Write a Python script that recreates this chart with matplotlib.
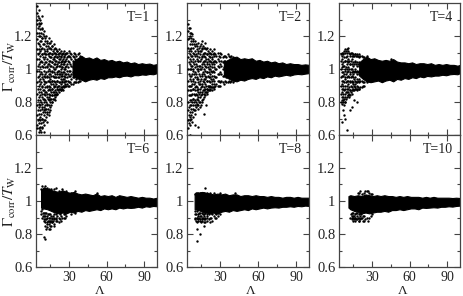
import matplotlib
matplotlib.use("Agg")
import matplotlib.pyplot as plt

plt.rcParams['font.family'] = ['Liberation Serif', 'DejaVu Serif']
plt.rcParams['mathtext.fontset'] = 'stix'

titles = ["T=1", "T=2", "T=4", "T=6", "T=8", "T=10"]
x_ticks = [30, 60, 90]
x_minor = [15, 45, 75]
y_ticks = [0.6, 0.8, 1.0, 1.2]
y_labels = ["0.6", "0.8", "1", "1.2"]
y_minor = [0.7, 0.9, 1.1, 1.3]

# Scattered points read column by column (Lambda, then ratios at that Lambda)
T1_lam = [5, 6, 7, 8, 9, 10, 11, 12, 13, 14, 15, 16, 17, 18, 19, 20, 21, 22, 23, 24, 25, 26, 27, 28, 30, 32, 34, 36, 38]
T1_val = [
    [1.38, 1.34, 1.30, 1.27, 1.22, 1.18, 1.12, 1.06, 0.99, 0.92, 0.85, 0.78, 0.72, 0.66, 0.64],
    [1.36, 1.31, 1.26, 1.20, 1.15, 1.10, 1.03, 0.96, 0.90, 0.83, 0.77, 0.70, 0.64, 0.62],
    [1.30, 1.24, 1.20, 1.14, 1.08, 1.01, 0.94, 0.88, 0.81, 0.75, 0.69, 0.63],
    [1.28, 1.22, 1.17, 1.12, 1.05, 0.98, 0.92, 0.86, 0.80, 0.73, 0.67, 0.62],
    [1.32, 1.24, 1.19, 1.13, 1.09, 1.04, 0.97, 0.90, 0.85, 0.79, 0.76, 0.70, 0.65],
    [1.20, 1.15, 1.10, 1.03, 0.96, 0.93, 0.87, 0.82, 0.77, 0.72, 0.66, 0.62],
    [1.17, 1.11, 1.07, 1.01, 0.95, 0.89, 0.84, 0.78, 0.74, 0.69],
    [1.20, 1.14, 1.09, 1.04, 0.98, 0.92, 0.86, 0.80, 0.76, 0.71],
    [1.17, 1.12, 1.06, 1.01, 0.96, 0.90, 0.85, 0.79, 0.74, 0.68],
    [1.19, 1.13, 1.08, 1.03, 0.97, 0.93, 0.88, 0.83, 0.78, 0.72],
    [1.16, 1.10, 1.05, 0.99, 0.94, 0.89, 0.84, 0.80, 0.75],
    [1.17, 1.12, 1.07, 1.02, 0.96, 0.91, 0.86, 0.82, 0.78],
    [1.14, 1.09, 1.04, 0.98, 0.93, 0.88, 0.84, 0.80],
    [1.15, 1.10, 1.06, 1.00, 0.95, 0.90, 0.86, 0.82],
    [1.13, 1.08, 1.03, 0.97, 0.92, 0.87, 0.83],
    [1.12, 1.09, 1.05, 1.01, 0.95, 0.91, 0.86, 0.84],
    [1.11, 1.07, 1.02, 0.97, 0.93, 0.88, 0.85],
    [1.12, 1.08, 1.04, 0.99, 0.95, 0.90, 0.86],
    [1.10, 1.06, 1.02, 0.97, 0.92, 0.88],
    [1.11, 1.07, 1.03, 0.98, 0.94, 0.89, 0.87],
    [1.09, 1.05, 1.01, 0.96, 0.92, 0.88],
    [1.11, 1.07, 1.03, 0.98, 0.94, 0.90],
    [1.09, 1.05, 1.00, 0.95, 0.91],
    [1.10, 1.06, 1.02, 0.97, 0.93, 0.90],
    [1.11, 1.08, 1.04, 0.99, 0.96, 0.92, 0.90],
    [1.09, 1.06, 1.02, 0.97, 0.94, 0.91],
    [1.10, 1.07, 1.03, 0.98, 0.95, 0.92],
    [1.08, 1.05, 1.01, 0.97, 0.94, 0.92],
    [1.10, 1.06, 1.02, 0.98, 0.95, 0.93],
]
T1_lam2 = [5.5, 6.6, 7.4, 8.6, 9.4, 10.6, 11.5, 12.6, 13.4, 14.6, 15.5, 16.4, 17.6, 18.5, 19.4, 20.6, 21.5, 22.4, 23.6, 24.5, 25.6, 26.5, 27.4, 28.6, 29.5, 31, 33, 35, 37, 39]
T1_val2 = [
    [1.32, 1.25, 1.16, 1.09, 1.02, 0.95, 0.88, 0.81, 0.75, 0.69],
    [1.28, 1.22, 1.12, 1.06, 0.99, 0.93, 0.86, 0.79, 0.73, 0.67],
    [1.27, 1.17, 1.11, 1.04, 0.97, 0.91, 0.84, 0.78, 0.71, 0.65],
    [1.25, 1.19, 1.09, 1.02, 0.95, 0.89, 0.83, 0.77, 0.70, 0.64],
    [1.21, 1.15, 1.07, 1.01, 0.94, 0.87, 0.82, 0.74, 0.68],
    [1.23, 1.12, 1.06, 0.99, 0.91, 0.85, 0.80, 0.75, 0.69],
    [1.19, 1.09, 1.04, 0.97, 0.92, 0.86, 0.81, 0.76],
    [1.16, 1.11, 1.02, 0.95, 0.89, 0.83, 0.78, 0.73],
    [1.14, 1.09, 1.03, 0.99, 0.93, 0.87, 0.82, 0.76],
    [1.16, 1.10, 1.05, 1.00, 0.95, 0.90, 0.85, 0.81, 0.74],
    [1.13, 1.07, 1.02, 0.97, 0.92, 0.87, 0.82, 0.77],
    [1.14, 1.09, 1.04, 0.99, 0.93, 0.88, 0.84, 0.80],
    [1.11, 1.06, 1.01, 0.96, 0.91, 0.86, 0.82],
    [1.12, 1.07, 1.03, 0.98, 0.93, 0.89, 0.84],
    [1.10, 1.05, 1.00, 0.95, 0.90, 0.85, 0.81],
    [1.11, 1.07, 1.03, 0.98, 0.93, 0.89, 0.85],
    [1.09, 1.04, 0.99, 0.95, 0.90, 0.87],
    [1.10, 1.06, 1.02, 0.97, 0.92, 0.88],
    [1.08, 1.04, 1.00, 0.96, 0.91, 0.87],
    [1.09, 1.05, 1.01, 0.97, 0.93, 0.89],
    [1.10, 1.06, 1.03, 0.98, 0.94, 0.90, 0.87],
    [1.08, 1.04, 1.00, 0.96, 0.92, 0.89],
    [1.09, 1.05, 1.01, 0.97, 0.93, 0.90],
    [1.10, 1.07, 1.03, 0.99, 0.95, 0.91],
    [1.08, 1.05, 1.01, 0.97, 0.93, 0.90],
    [1.10, 1.07, 1.03, 0.99, 0.96, 0.92],
    [1.08, 1.05, 1.01, 0.98, 0.95, 0.91],
    [1.09, 1.06, 1.03, 0.99, 0.96, 0.92],
    [1.09, 1.05, 1.02, 0.98, 0.95, 0.92],
    [1.08, 1.05, 1.01, 0.98, 0.95, 0.93],
]
T2_lam = [5, 6, 7, 8, 9, 10, 11, 12, 13, 14, 15, 16, 17, 18, 19, 20, 21, 22, 23, 24, 25, 26, 28, 30, 33, 36, 40]
T2_val = [
    [1.27, 1.23, 1.18, 1.13, 1.07, 1.00, 0.93, 0.87, 0.80, 0.75, 0.69, 0.64],
    [1.25, 1.20, 1.15, 1.09, 1.03, 0.96, 0.90, 0.84, 0.78, 0.71, 0.66, 0.60],
    [1.22, 1.17, 1.11, 1.05, 1.00, 0.93, 0.87, 0.81, 0.76, 0.70],
    [1.21, 1.15, 1.08, 1.02, 0.97, 0.91, 0.85, 0.80, 0.74, 0.68],
    [1.18, 1.13, 1.06, 1.00, 0.94, 0.88, 0.82, 0.78],
    [1.17, 1.11, 1.05, 0.98, 0.92, 0.87, 0.81, 0.75, 0.66],
    [1.15, 1.09, 1.03, 0.97, 0.90, 0.85, 0.80, 0.77],
    [1.14, 1.08, 1.02, 0.95, 0.89, 0.84, 0.79],
    [1.16, 1.10, 1.05, 1.00, 0.94, 0.88, 0.83, 0.78, 0.65],
    [1.14, 1.09, 1.02, 0.96, 0.91, 0.86, 0.80],
    [1.15, 1.11, 1.06, 1.00, 0.94, 0.89, 0.84, 0.78],
    [1.17, 1.12, 1.07, 1.01, 0.96, 0.90, 0.85, 0.80],
    [1.13, 1.08, 1.03, 0.97, 0.92, 0.87, 0.83, 0.73],
    [1.16, 1.10, 1.05, 0.99, 0.94, 0.88, 0.84],
    [1.12, 1.06, 1.01, 0.95, 0.90, 0.86, 0.78],
    [1.13, 1.09, 1.03, 0.98, 0.93, 0.88, 0.86],
    [1.10, 1.05, 1.00, 0.95, 0.90, 0.87],
    [1.12, 1.07, 1.02, 0.97, 0.92, 0.88],
    [1.09, 1.04, 0.99, 0.94, 0.89],
    [1.11, 1.06, 1.01, 0.96, 0.91, 0.87],
    [1.12, 1.08, 1.03, 0.98, 0.93, 0.89],
    [1.09, 1.05, 1.00, 0.95, 0.90],
    [1.10, 1.06, 1.02, 0.97, 0.93, 0.90],
    [1.10, 1.07, 1.03, 0.98, 0.92, 0.90],
    [1.08, 1.05, 1.01, 0.96, 0.91],
    [1.09, 1.05, 1.01, 0.97, 0.92],
    [1.07, 1.04, 1.00, 0.96, 0.92],
]
T2_lam2 = [5.5, 6.6, 7.4, 8.6, 9.5, 10.4, 11.6, 12.5, 13.4, 14.6, 15.5, 16.4, 17.6, 18.5, 19.5, 20.6, 21.5, 22.4, 23.6, 24.5, 25.6, 27, 29, 31, 32, 34, 35, 37, 38, 39]
T2_val2 = [
    [1.25, 1.19, 1.11, 1.04, 0.97, 0.90, 0.84, 0.77, 0.72, 0.67],
    [1.22, 1.12, 1.06, 1.00, 0.94, 0.87, 0.81, 0.74, 0.69],
    [1.19, 1.13, 1.08, 1.02, 0.96, 0.90, 0.84, 0.78, 0.72],
    [1.17, 1.10, 1.04, 0.99, 0.93, 0.88, 0.82, 0.76, 0.71],
    [1.15, 1.09, 1.03, 0.97, 0.91, 0.85, 0.80, 0.75],
    [1.14, 1.08, 1.01, 0.95, 0.89, 0.84, 0.78, 0.73],
    [1.12, 1.06, 1.00, 0.94, 0.87, 0.82, 0.78],
    [1.11, 1.05, 0.99, 0.92, 0.86, 0.81, 0.76],
    [1.13, 1.07, 1.02, 0.97, 0.91, 0.85, 0.80],
    [1.11, 1.05, 1.00, 0.93, 0.88, 0.83, 0.77],
    [1.13, 1.08, 1.03, 0.97, 0.91, 0.86, 0.81],
    [1.14, 1.09, 1.04, 0.98, 0.93, 0.87, 0.82],
    [1.10, 1.05, 1.00, 0.94, 0.89, 0.85],
    [1.13, 1.07, 1.02, 0.96, 0.91, 0.86],
    [1.09, 1.04, 0.98, 0.93, 0.88, 0.85],
    [1.11, 1.06, 1.01, 0.96, 0.90, 0.87],
    [1.08, 1.03, 0.98, 0.93, 0.89],
    [1.10, 1.05, 1.00, 0.95, 0.90, 0.87],
    [1.07, 1.03, 0.98, 0.93, 0.89],
    [1.09, 1.04, 0.99, 0.94, 0.89],
    [1.10, 1.05, 1.01, 0.96, 0.91, 0.88],
    [1.08, 1.04, 1.00, 0.95, 0.91],
    [1.08, 1.05, 1.01, 0.97, 0.93, 0.90],
    [1.09, 1.05, 1.02, 0.97, 0.93],
    [1.07, 1.04, 1.00, 0.96, 0.92],
    [1.08, 1.05, 1.01, 0.97, 0.93],
    [1.07, 1.03, 0.99, 0.95, 0.92],
    [1.08, 1.05, 1.01, 0.97, 0.93],
    [1.07, 1.03, 0.99, 0.95, 0.92],
    [1.08, 1.04, 1.00, 0.96, 0.93],
]
T4_lam = [5.5, 6, 7, 8, 9, 10, 11, 12, 13, 14, 15, 16, 17, 18, 19, 20, 21, 22, 23, 24, 26, 45]
T4_val = [
    [1.09, 1.05, 1.00, 0.95, 0.90, 0.85, 0.80],
    [1.10, 1.06, 1.01, 0.96, 0.91, 0.86, 0.81, 0.79, 0.68],
    [1.10, 1.04, 0.98, 0.93, 0.88, 0.83, 0.80, 0.75],
    [1.11, 1.07, 1.02, 0.97, 0.92, 0.87, 0.82, 0.78, 0.72],
    [1.12, 1.05, 1.00, 0.95, 0.90, 0.85, 0.80, 0.70],
    [1.12, 1.08, 1.03, 0.98, 0.93, 0.88, 0.83, 0.63],
    [1.13, 1.06, 1.01, 0.96, 0.91, 0.86, 0.84],
    [1.10, 1.05, 1.00, 0.95, 0.89, 0.85, 0.83],
    [1.08, 1.03, 0.98, 0.93, 0.87, 0.84, 0.75],
    [1.10, 1.06, 1.00, 0.96, 0.92, 0.87, 0.85, 0.77],
    [1.09, 1.04, 0.99, 0.95, 0.91, 0.87],
    [1.08, 1.03, 0.98, 0.94, 0.90, 0.87, 0.81],
    [1.09, 1.05, 1.00, 0.95, 0.91, 0.88],
    [1.09, 1.04, 0.99, 0.94, 0.90, 0.87, 0.80],
    [1.08, 1.03, 0.98, 0.93, 0.89],
    [1.09, 1.04, 0.99, 0.94, 0.88],
    [1.08, 1.03, 0.98, 0.93, 0.89],
    [1.08, 1.03, 0.98, 0.93, 0.89],
    [1.07, 1.02, 0.97, 0.92, 0.90],
    [1.07, 1.02, 0.97, 0.92, 0.90],
    [1.08, 1.02, 0.97, 0.92],
    [1.06],
]
T4_lam2 = [6.5, 7.5, 8.5, 9.5, 10.5, 11.5, 12.5, 13.5, 14.5, 15.5, 16.5, 17.5, 18.5, 19.5]
T4_val2 = [
    [1.08, 1.03, 0.98, 0.93, 0.88, 0.83],
    [1.09, 1.02, 0.96, 0.90, 0.85, 0.81],
    [1.10, 1.05, 0.99, 0.94, 0.88, 0.83, 0.80],
    [1.11, 1.07, 1.01, 0.97, 0.92, 0.86, 0.82],
    [1.10, 1.05, 1.00, 0.95, 0.90, 0.86],
    [1.11, 1.04, 0.99, 0.93, 0.88, 0.84],
    [1.09, 1.03, 0.97, 0.92, 0.87],
    [1.10, 1.05, 1.00, 0.95, 0.90, 0.86],
    [1.08, 1.03, 0.98, 0.93, 0.89],
    [1.08, 1.02, 0.97, 0.92, 0.88],
    [1.09, 1.04, 0.99, 0.93, 0.89],
    [1.08, 1.03, 0.98, 0.92, 0.88],
    [1.08, 1.02, 0.97, 0.92, 0.88],
    [1.07, 1.02, 0.97, 0.92, 0.88],
]
T6_lam = [8, 9, 10, 11, 12, 13, 14, 15, 16, 17, 18, 20, 22, 25, 28, 32, 35, 52]
T6_val = [
    [1.07, 0.94, 0.92],
    [1.09, 0.95, 0.90],
    [1.08, 0.93, 0.88, 0.78],
    [1.09, 0.91, 0.87, 0.77],
    [1.07, 0.93, 0.89, 0.83],
    [1.08, 0.90, 0.86, 0.84],
    [1.07, 0.92, 0.88, 0.83],
    [1.06, 0.90, 0.87, 0.83],
    [1.07, 0.91, 0.88, 0.85],
    [1.06, 0.90, 0.87],
    [1.07, 0.92, 0.89, 0.85],
    [1.08, 0.90, 0.88],
    [1.06, 0.90, 0.87],
    [1.07, 0.90],
    [1.06, 0.91],
    [1.05, 0.92],
    [1.06, 0.93],
    [1.05],
]
T6_lam2 = [9.5, 10.5, 11.5, 12.5, 13.5, 14.5, 15.5, 16.5, 17.5, 18.5, 19.5, 21, 23, 24, 26, 27]
T6_val2 = [
    [0.93, 0.91],
    [0.91, 0.89],
    [0.93, 0.89, 0.85],
    [0.91, 0.87],
    [0.92, 0.88],
    [0.90, 0.86],
    [0.92, 0.88, 0.85],
    [0.89, 0.87],
    [0.91, 0.88],
    [0.90, 0.86],
    [0.92, 0.89],
    [0.91, 0.88],
    [0.92, 0.89],
    [0.91, 0.88],
    [0.92, 0.90],
    [0.92, 0.90],
]
T8_lam = [10, 11, 12, 13, 14, 15, 16, 17, 18, 20, 22, 25, 30, 42]
T8_val = [
    [1.04, 0.94, 0.89],
    [1.05, 0.92, 0.88],
    [1.05, 0.90, 0.87, 0.83, 0.76],
    [1.05, 0.91, 0.88],
    [1.05, 0.93, 0.89, 0.80],
    [1.05, 0.91, 0.87],
    [1.05, 0.90, 0.88],
    [1.05, 0.92, 0.89, 0.85],
    [1.08, 0.90, 0.87],
    [1.05, 0.91, 0.88],
    [1.05, 0.90, 0.87],
    [1.05, 0.91],
    [1.05, 0.92],
    [1.05],
]
T8_lam2 = [10.5, 11.5, 12.5, 13.5, 14.5, 15.5, 16.5, 17.5, 18.5, 19.5, 21, 23, 24, 26, 27, 28]
T8_val2 = [
    [0.92, 0.90],
    [0.94, 0.90],
    [0.92, 0.89],
    [0.93, 0.90],
    [0.91, 0.88],
    [0.93, 0.89],
    [0.92, 0.90],
    [0.91, 0.87],
    [0.93, 0.89],
    [0.92, 0.90],
    [0.92, 0.89],
    [0.93, 0.90],
    [0.92, 0.88],
    [0.93, 0.90],
    [0.92, 0.90],
    [0.93, 0.91],
]
T10_lam = [13, 14, 15, 16, 17, 18, 19, 20, 21, 22, 24, 25, 26, 27, 28]
T10_val = [
    [0.90],
    [0.89, 0.91],
    [0.88, 0.90],
    [0.89, 0.91],
    [0.88, 0.90],
    [0.89],
    [1.05, 0.90],
    [1.05, 0.88, 0.90],
    [1.06, 0.89],
    [1.04, 0.90],
    [1.05, 0.88, 0.91],
    [1.06, 0.89],
    [1.06, 0.90],
    [1.06, 0.88],
    [1.05, 0.90],
]
T10_lam2 = [13.5, 14.5, 15.5, 16.5, 17.5, 18.5, 19.5, 20.5, 21.5, 23, 29, 30]
T10_val2 = [
    [0.92],
    [0.90, 0.93],
    [0.91, 0.93],
    [0.90, 0.92],
    [0.89, 0.93],
    [0.91, 0.93],
    [0.92, 0.88],
    [0.91, 0.93],
    [0.90, 0.92],
    [0.88, 0.91],
    [1.04, 0.91],
    [1.04, 0.92],
]

# Extent of the solid part of each cloud
T1_core_lam = [33, 36, 40, 43, 46, 49, 52, 55, 58, 61, 64, 67, 70, 73, 76, 79, 82, 85, 88, 91, 94, 97, 100]
T1_core_low = [0.96, 0.945, 0.935, 0.925, 0.935, 0.94, 0.935, 0.945, 0.94, 0.95, 0.95, 0.955, 0.95, 0.958, 0.96, 0.955, 0.963, 0.962, 0.967, 0.965, 0.97, 0.968, 0.975]
T1_core_high = [1.04, 1.06, 1.08, 1.065, 1.07, 1.06, 1.07, 1.055, 1.06, 1.05, 1.055, 1.045, 1.05, 1.04, 1.045, 1.035, 1.04, 1.03, 1.035, 1.03, 1.033, 1.025, 1.03]
T2_core_lam = [33, 36, 40, 43, 46, 49, 52, 55, 58, 61, 64, 67, 70, 73, 76, 79, 82, 85, 88, 91, 94, 97, 100]
T2_core_low = [0.96, 0.945, 0.93, 0.925, 0.935, 0.93, 0.94, 0.945, 0.94, 0.95, 0.945, 0.955, 0.95, 0.96, 0.955, 0.96, 0.965, 0.96, 0.967, 0.97, 0.968, 0.972, 0.975]
T2_core_high = [1.04, 1.055, 1.07, 1.075, 1.06, 1.065, 1.06, 1.065, 1.05, 1.055, 1.045, 1.05, 1.04, 1.045, 1.035, 1.04, 1.03, 1.035, 1.03, 1.03, 1.025, 1.028, 1.025]
T4_core_lam = [20, 23, 26, 29, 32, 35, 38, 41, 44, 47, 50, 53, 56, 59, 62, 65, 68, 71, 74, 77, 80, 83, 86, 89, 92, 95, 98, 100]
T4_core_low = [0.96, 0.94, 0.925, 0.92, 0.925, 0.93, 0.92, 0.93, 0.935, 0.925, 0.94, 0.935, 0.945, 0.94, 0.95, 0.945, 0.955, 0.95, 0.958, 0.955, 0.96, 0.96, 0.965, 0.962, 0.968, 0.97, 0.968, 0.975]
T4_core_high = [1.04, 1.06, 1.075, 1.06, 1.065, 1.055, 1.05, 1.055, 1.05, 1.06, 1.045, 1.04, 1.04, 1.035, 1.04, 1.03, 1.035, 1.035, 1.03, 1.035, 1.025, 1.03, 1.025, 1.03, 1.025, 1.025, 1.02, 1.025]
T6_core_lam = [8, 10, 13, 16, 19, 22, 25, 28, 31, 34, 37, 40, 43, 46, 49, 52, 55, 58, 61, 64, 67, 70, 73, 76, 79, 82, 85, 88, 91, 94, 97, 100]
T6_core_low = [0.96, 0.955, 0.95, 0.94, 0.93, 0.925, 0.93, 0.925, 0.935, 0.93, 0.94, 0.935, 0.945, 0.94, 0.945, 0.95, 0.945, 0.955, 0.95, 0.955, 0.95, 0.96, 0.955, 0.96, 0.958, 0.96, 0.965, 0.96, 0.968, 0.965, 0.97, 0.968]
T6_core_high = [1.07, 1.08, 1.075, 1.065, 1.06, 1.055, 1.065, 1.055, 1.05, 1.055, 1.045, 1.04, 1.045, 1.04, 1.035, 1.045, 1.03, 1.035, 1.03, 1.035, 1.025, 1.035, 1.03, 1.025, 1.03, 1.025, 1.02, 1.025, 1.02, 1.02, 1.015, 1.02]
T8_core_lam = [10, 13, 16, 19, 22, 25, 28, 31, 34, 37, 40, 43, 46, 49, 52, 55, 58, 61, 64, 67, 70, 73, 76, 79, 82, 85, 88, 91, 94, 97, 100]
T8_core_low = [0.95, 0.945, 0.935, 0.93, 0.925, 0.93, 0.925, 0.935, 0.94, 0.935, 0.945, 0.94, 0.945, 0.95, 0.945, 0.955, 0.95, 0.955, 0.96, 0.955, 0.96, 0.962, 0.96, 0.965, 0.965, 0.968, 0.965, 0.97, 0.968, 0.972, 0.97]
T8_core_high = [1.045, 1.05, 1.055, 1.05, 1.045, 1.04, 1.045, 1.04, 1.045, 1.035, 1.04, 1.04, 1.03, 1.035, 1.035, 1.03, 1.035, 1.03, 1.03, 1.025, 1.03, 1.025, 1.025, 1.02, 1.025, 1.025, 1.02, 1.025, 1.02, 1.02, 1.02]
T10_core_lam = [11.5, 13, 16, 19, 22, 25, 28, 31, 34, 37, 40, 43, 46, 49, 52, 55, 58, 61, 64, 67, 70, 73, 76, 79, 82, 85, 88, 91, 94, 97, 100]
T10_core_low = [0.96, 0.95, 0.94, 0.935, 0.925, 0.93, 0.925, 0.93, 0.935, 0.935, 0.94, 0.935, 0.945, 0.945, 0.95, 0.945, 0.95, 0.955, 0.955, 0.95, 0.96, 0.958, 0.96, 0.962, 0.96, 0.965, 0.965, 0.968, 0.966, 0.97, 0.972]
T10_core_high = [1.03, 1.035, 1.03, 1.035, 1.03, 1.04, 1.035, 1.03, 1.035, 1.03, 1.035, 1.03, 1.03, 1.025, 1.03, 1.025, 1.03, 1.025, 1.025, 1.025, 1.02, 1.025, 1.02, 1.025, 1.02, 1.02, 1.02, 1.02, 1.018, 1.02, 1.018]

scatter_lam = [T1_lam + T1_lam2, T2_lam + T2_lam2, T4_lam + T4_lam2, T6_lam + T6_lam2, T8_lam + T8_lam2, T10_lam + T10_lam2]
scatter_val = [T1_val + T1_val2, T2_val + T2_val2, T4_val + T4_val2, T6_val + T6_val2, T8_val + T8_val2, T10_val + T10_val2]
core_lam = [T1_core_lam, T2_core_lam, T4_core_lam, T6_core_lam, T8_core_lam, T10_core_lam]
core_low = [T1_core_low, T2_core_low, T4_core_low, T6_core_low, T8_core_low, T10_core_low]
core_high = [T1_core_high, T2_core_high, T4_core_high, T6_core_high, T8_core_high, T10_core_high]

W, H = 463, 296
fig = plt.figure(figsize=(W / 100, H / 100), dpi=100)
lefts = [36, 187, 339]
widths = [121, 122, 121]
tops = [3, 135]
ax_h = 132
LINE = "#444444"

for i in range(6):
    col, row = i % 3, i // 3
    ax = fig.add_axes([lefts[col] / W, 1 - (tops[row] + ax_h) / H, widths[col] / W, ax_h / H])
    ax.set_xlim(4, 100)
    ax.set_ylim(0.6, 1.4)
    ax.fill_between(core_lam[i], core_low[i], core_high[i], color="black", lw=0.8, zorder=2)
    xs = [lam for lam, vals in zip(scatter_lam[i], scatter_val[i]) for _ in vals]
    ys = [v for vals in scatter_val[i] for v in vals]
    ax.scatter(xs, ys, s=3, c="black", linewidths=0, zorder=3)
    ax.set_xticks(x_ticks)
    ax.set_xticks(x_minor, minor=True)
    ax.set_yticks(y_ticks)
    ax.set_yticks(y_minor, minor=True)
    ax.set_yticklabels(y_labels)
    if row == 0:
        ax.set_xticklabels([])
    ax.tick_params(which="major", direction="in", top=True, right=True, length=4.5, width=0.8,
                   color=LINE, labelsize=10.5, pad=2.5, labelcolor="#222222")
    ax.tick_params(axis="x", which="major", pad=3, labelsize=10)
    ax.tick_params(which="minor", direction="in", top=True, right=True, length=2.5, width=0.8, color=LINE)
    for s in ax.spines.values():
        s.set_linewidth(0.9)
        s.set_color(LINE)
    ax.text(0.94, 0.89, titles[i], transform=ax.transAxes, ha="right", va="center",
            fontsize=10, color="#222222")

for col, left in enumerate(lefts):
    fig.text((left + widths[col] / 2 + 3) / W, 1 - 290.5 / H, "Λ", ha="center", va="center",
             fontsize=9.5, color="#222222")

fig.text(10 / W, 1 - 66 / H, r"$\Gamma_{\rm corr}/T_{\rm W}$", rotation=90, ha="center", va="center",
         fontsize=11, color="#222222")
fig.text(10 / W, 1 - 201 / H, r"$\Gamma_{\rm corr}/T_{\rm W}$", rotation=90, ha="center", va="center",
         fontsize=11, color="#222222")

fig.savefig("out.png", dpi=100)
